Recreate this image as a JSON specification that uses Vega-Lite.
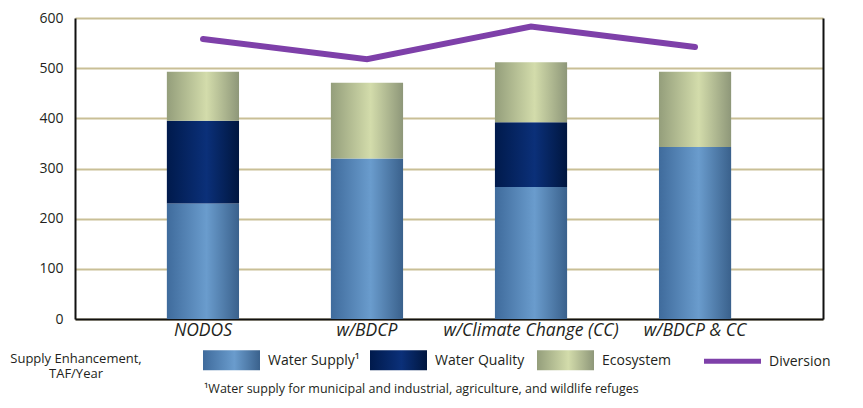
{
  "$schema": "https://vega.github.io/schema/vega-lite/v6.json",
  "width": 748,
  "height": 301,
  "autosize": "none",
  "padding": {"left": 75, "top": 18, "right": 40, "bottom": 89},
  "background": "white",
  "config": {
    "font": "Open Sans",
    "view": {"stroke": null},
    "axis": {"labelColor": "#231f20", "domainColor": "#111111", "domainWidth": 2, "ticks": false, "title": null}
  },
  "title": {
    "text": "¹Water supply for municipal and industrial, agriculture, and wildlife refuges",
    "orient": "bottom",
    "anchor": "start",
    "frame": "group",
    "dx": 129,
    "offset": 2,
    "fontSize": 12.5,
    "fontWeight": "normal",
    "color": "#231f20"
  },
  "data": {
    "values": [
      {"scenario": "NODOS", "series": "Water Supply", "value": 230},
      {"scenario": "NODOS", "series": "Water Quality", "value": 165},
      {"scenario": "NODOS", "series": "Ecosystem", "value": 98},
      {"scenario": "NODOS", "series": "Diversion", "value": 558},
      {"scenario": "w/BDCP", "series": "Water Supply", "value": 320},
      {"scenario": "w/BDCP", "series": "Ecosystem", "value": 151},
      {"scenario": "w/BDCP", "series": "Diversion", "value": 518},
      {"scenario": "w/Climate Change (CC)", "series": "Water Supply", "value": 263},
      {"scenario": "w/Climate Change (CC)", "series": "Water Quality", "value": 129},
      {"scenario": "w/Climate Change (CC)", "series": "Ecosystem", "value": 120},
      {"scenario": "w/Climate Change (CC)", "series": "Diversion", "value": 583},
      {"scenario": "w/BDCP & CC", "series": "Water Supply", "value": 343},
      {"scenario": "w/BDCP & CC", "series": "Ecosystem", "value": 150},
      {"scenario": "w/BDCP & CC", "series": "Diversion", "value": 542}
    ]
  },
  "encoding": {
    "x": {
      "field": "scenario",
      "type": "nominal",
      "sort": ["NODOS", "w/BDCP", "w/Climate Change (CC)", "w/BDCP & CC"],
      "scale": {"paddingInner": 0.56, "paddingOuter": 0.56},
      "axis": {"labelAngle": 0, "labelFontSize": 17.5, "labelFontStyle": "italic", "labelPadding": 2}
    }
  },
  "layer": [
    {
      "transform": [
        {"filter": "datum.series !== 'Diversion'"},
        {"stack": "value", "groupby": ["scenario"], "sort": [{"field": "series", "order": "descending"}], "as": ["lo", "hi"]},
        {"filter": "datum.series === 'Water Supply'"}
      ],
      "mark": {
        "type": "bar",
        "color": {"gradient": "linear", "x1": 0, "x2": 1, "y1": 0, "y2": 0,
          "stops": [{"offset": 0, "color": "#3f6b9c"}, {"offset": 0.55, "color": "#6a9ccd"}, {"offset": 1, "color": "#3a618c"}]}
      },
      "encoding": {
        "y": {
          "field": "lo", "type": "quantitative",
          "scale": {"domain": [0, 600], "nice": false},
          "axis": {"values": [0, 100, 200, 300, 400, 500, 600], "labelFontSize": 14, "labelPadding": 12,
            "grid": true, "gridColor": "#c9bf96", "gridWidth": 2}
        },
        "y2": {"field": "hi"}
      }
    },
    {
      "transform": [
        {"filter": "datum.series !== 'Diversion'"},
        {"stack": "value", "groupby": ["scenario"], "sort": [{"field": "series", "order": "descending"}], "as": ["lo", "hi"]},
        {"filter": "datum.series === 'Water Quality'"}
      ],
      "mark": {
        "type": "bar",
        "color": {"gradient": "linear", "x1": 0, "x2": 1, "y1": 0, "y2": 0,
          "stops": [{"offset": 0, "color": "#001a4c"}, {"offset": 0.55, "color": "#0b3079"}, {"offset": 1, "color": "#00163f"}]}
      },
      "encoding": {
        "y": {"field": "lo", "type": "quantitative", "axis": null},
        "y2": {"field": "hi"}
      }
    },
    {
      "transform": [
        {"filter": "datum.series !== 'Diversion'"},
        {"stack": "value", "groupby": ["scenario"], "sort": [{"field": "series", "order": "descending"}], "as": ["lo", "hi"]},
        {"filter": "datum.series === 'Ecosystem'"}
      ],
      "mark": {
        "type": "bar",
        "color": {"gradient": "linear", "x1": 0, "x2": 1, "y1": 0, "y2": 0,
          "stops": [{"offset": 0, "color": "#949e7b"}, {"offset": 0.55, "color": "#d3dcab"}, {"offset": 1, "color": "#8e9779"}]}
      },
      "encoding": {
        "y": {"field": "lo", "type": "quantitative", "axis": null},
        "y2": {"field": "hi"}
      }
    },
    {
      "transform": [{"filter": "datum.series === 'Diversion'"}],
      "mark": {"type": "line", "strokeWidth": 6, "strokeCap": "round"},
      "encoding": {
        "y": {
          "field": "value", "type": "quantitative",
          "axis": {"orient": "right", "labels": false, "grid": false, "values": [0, 600]}
        },
        "color": {
          "field": "series",
          "type": "nominal",
          "scale": {
            "domain": ["Water Supply", "Water Quality", "Ecosystem", "Diversion"],
            "range": ["#5a8cc0", "#0a2a6e", "#c3cda0", "#7e40a9"]
          },
          "legend": {
            "orient": "none",
            "legendX": -65,
            "legendY": 313.5,
            "direction": "horizontal",
            "columns": 4,
            "gridAlign": "all",
            "title": ["Supply Enhancement,", "TAF/Year"],
            "titleOrient": "left",
            "titleAlign": "center",
            "titleFontSize": 13,
            "titleFontWeight": "normal",
            "titleColor": "#231f20",
            "titleLineHeight": 15,
            "titlePadding": -5,
            "symbolSize": 3249,
            "symbolType": "M-1,-0.35L1,-0.35L1,0.35L-1,0.35Z",
            "symbolStrokeWidth": 0,
            "labelFontSize": 14,
            "labelColor": "#231f20",
            "labelOffset": 8,
            "columnPadding": 10,
            "labelExpr": "datum.value === 'Water Supply' ? 'Water Supply¹' : datum.value",
            "encode": {
              "title": {"update": {"dy": {"value": 15}}},
              "labels": {"update": {"dy": {"value": 1}}},
              "symbols": {
                "update": {
                  "stroke": {"value": "transparent"},
                  "strokeWidth": {"value": 0},
                  "shape": [
                    {"test": "datum.value === 'Diversion'", "value": "M-1,-0.09L1,-0.09L1,0.09L-1,0.09Z"},
                    {"value": "M-1,-0.35L1,-0.35L1,0.35L-1,0.35Z"}
                  ],
                  "fill": [
                    {"test": "datum.value === 'Water Supply'", "value": {"gradient": "linear", "x1": 0, "x2": 1, "y1": 0, "y2": 0,
                      "stops": [{"offset": 0, "color": "#3f6b9c"}, {"offset": 0.55, "color": "#6a9ccd"}, {"offset": 1, "color": "#3a618c"}]}},
                    {"test": "datum.value === 'Water Quality'", "value": {"gradient": "linear", "x1": 0, "x2": 1, "y1": 0, "y2": 0,
                      "stops": [{"offset": 0, "color": "#001a4c"}, {"offset": 0.55, "color": "#0b3079"}, {"offset": 1, "color": "#00163f"}]}},
                    {"test": "datum.value === 'Ecosystem'", "value": {"gradient": "linear", "x1": 0, "x2": 1, "y1": 0, "y2": 0,
                      "stops": [{"offset": 0, "color": "#949e7b"}, {"offset": 0.55, "color": "#d3dcab"}, {"offset": 1, "color": "#8e9779"}]}},
                    {"value": "#7e40a9"}
                  ],
                  "opacity": {"value": 1}
                }
              }
            }
          }
        }
      }
    }
  ],
  "resolve": {"axis": {"y": "independent"}}
}
